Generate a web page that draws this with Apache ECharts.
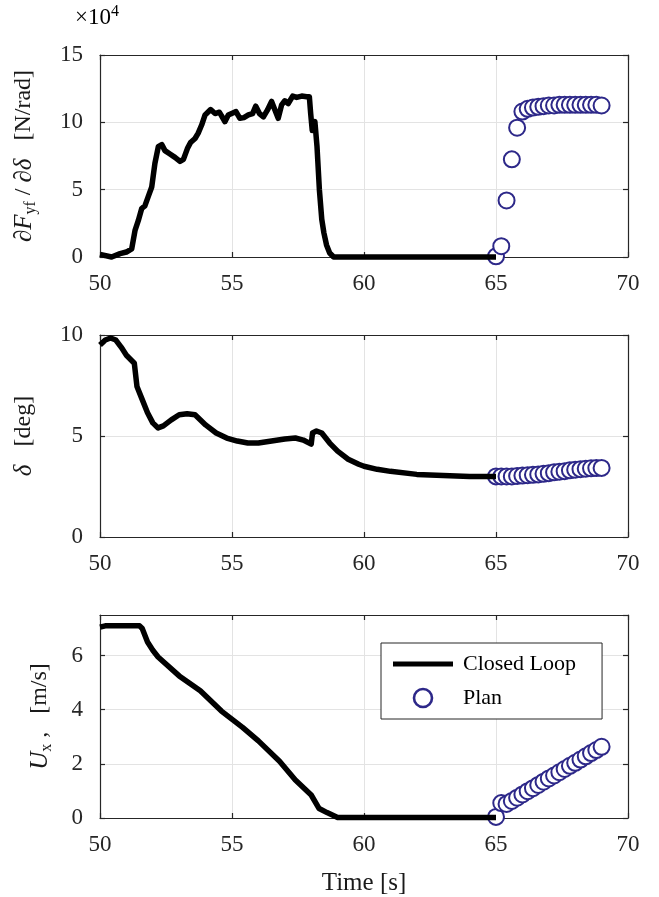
<!DOCTYPE html>
<html>
<head>
<meta charset="utf-8">
<script src="https://cdn.jsdelivr.net/npm/echarts@6/dist/echarts.min.js"></script>
<style>
html, body { margin: 0; padding: 0; background: #fff; }
#chart { width: 659px; height: 897px; }
</style>
</head>
<body>
<div id="chart"></div>
<script>
// time axis ticks (s)
const timeTicks = [50, 55, 60, 65, 70]

// dFyf/d delta, closed loop, in 1e4 N/rad
const stiffT = [50, 50.44, 50.76, 51.0, 51.2, 51.33, 51.45, 51.58, 51.7, 51.83, 51.96, 52.08, 52.21, 52.34, 52.46, 52.65, 52.84, 53.03, 53.16, 53.31, 53.43, 53.6, 53.72, 53.85, 53.98, 54.19, 54.36, 54.52, 54.6, 54.73, 54.86, 55.03, 55.15, 55.3, 55.45, 55.62, 55.78, 55.9, 56.04, 56.19, 56.34, 56.5, 56.63, 56.75, 56.88, 57.0, 57.13, 57.3, 57.45, 57.64, 57.83, 57.93, 57.98, 58.04, 58.14, 58.22, 58.31, 58.4, 58.48, 58.58, 58.7, 58.85, 60, 62, 65]
const stiffV = [0.2, 0, 0.25, 0.37, 0.6, 2.0, 2.7, 3.6, 3.8, 4.5, 5.2, 6.95, 8.2, 8.35, 7.9, 7.65, 7.4, 7.1, 7.25, 8.05, 8.5, 8.8, 9.2, 9.8, 10.55, 10.95, 10.65, 10.75, 10.5, 10.05, 10.55, 10.7, 10.8, 10.3, 10.35, 10.55, 10.65, 11.2, 10.65, 10.4, 10.9, 11.55, 10.9, 10.3, 11.3, 11.6, 11.4, 11.95, 11.85, 11.95, 11.9, 11.9, 10.65, 9.4, 10.05, 8.2, 5.0, 2.8, 1.8, 0.9, 0.3, 0, 0, 0, 0]

// steering angle, closed loop (deg)
const steerT = [50.0, 50.2, 50.4, 50.6, 50.8, 51.0, 51.3, 51.4, 51.6, 51.8, 52.0, 52.2, 52.4, 52.7, 53.0, 53.3, 53.6, 54.0, 54.4, 54.8, 55.2, 55.6, 56.0, 56.5, 57.0, 57.4, 57.7, 58.0, 58.05, 58.2, 58.4, 58.7, 59.0, 59.4, 59.8, 60.0, 60.5, 61, 62, 63, 64, 65]
const steerV = [9.5, 9.75, 9.85, 9.75, 9.4, 9.0, 8.6, 7.45, 6.8, 6.15, 5.65, 5.4, 5.5, 5.8, 6.05, 6.1, 6.05, 5.55, 5.15, 4.9, 4.75, 4.65, 4.65, 4.75, 4.85, 4.9, 4.8, 4.6, 5.15, 5.25, 5.15, 4.65, 4.25, 3.85, 3.6, 3.5, 3.35, 3.25, 3.1, 3.05, 3.0, 3.0]

// longitudinal speed, closed loop (m/s)
const speedT = [50.0, 50.2, 51.0, 51.5, 51.6, 51.8, 52.0, 52.2, 53.0, 53.8, 54.6, 55.4, 56.0, 56.8, 57.4, 58.0, 58.3, 58.6, 59.0, 61, 63, 65]
const speedV = [7.05, 7.1, 7.1, 7.1, 7.0, 6.5, 6.2, 5.95, 5.25, 4.7, 3.95, 3.35, 2.85, 2.1, 1.4, 0.85, 0.35, 0.2, 0.02, 0.02, 0.02, 0.02]

// plan
const planT = [65.0, 65.2, 65.4, 65.6, 65.8, 66.0, 66.2, 66.4, 66.6, 66.8, 67.0, 67.2, 67.4, 67.6, 67.8, 68.0, 68.2, 68.4, 68.6, 68.8, 69.0]
const planStiff = [0.05, 0.8, 4.2, 7.25, 9.6, 10.8, 11.0, 11.1, 11.15, 11.2, 11.25, 11.25, 11.3, 11.3, 11.3, 11.3, 11.3, 11.3, 11.3, 11.3, 11.25]
const planSteer = [3.0, 3.0, 3.0, 3.0, 3.02, 3.04, 3.06, 3.08, 3.1, 3.13, 3.16, 3.2, 3.23, 3.26, 3.3, 3.33, 3.36, 3.38, 3.4, 3.41, 3.42]
const planSpeed = [0.04, 0.55, 0.52, 0.63, 0.75, 0.87, 0.99, 1.1, 1.22, 1.34, 1.46, 1.57, 1.69, 1.81, 1.93, 2.04, 2.16, 2.28, 2.4, 2.51, 2.63]

// y ticks
const stiffTicks = [0, 5, 10, 15]
const steerTicks = [0, 5, 10]
const speedTicks = [0, 2, 4, 6]

const serif = "'Liberation Serif', 'DejaVu Serif', serif"
const axisColor = '#262626'
const planColor = '#2d2889'

const pair = (ts, vs) => ts.map((t, k) => [t, vs[k]])

const nameRich = {
  i: { fontFamily: serif, fontStyle: 'italic', fontSize: 25, lineHeight: 30, color: '#1a1a1a' },
  n: { fontFamily: serif, fontSize: 24, lineHeight: 30, color: '#1a1a1a' },
  s: { fontFamily: serif, fontSize: 16, lineHeight: 16, verticalAlign: 'bottom', color: '#1a1a1a' },
}

const grids = [
  { left: 100, top: 55, width: 528, height: 202 },
  { left: 100, top: 335, width: 528, height: 202 },
  { left: 100, top: 615, width: 528, height: 203 },
]

const panels = [
  { ticks: stiffTicks, max: 15, name: '{i|∂F}{s|yf}{n| / }{i|∂δ}{n|   [N/rad]}', gap: 61 },
  { ticks: steerTicks, max: 10, name: '{i|δ}{n|   [deg]}', gap: 61 },
  { ticks: speedTicks, max: 7.5, name: '{i|U}{s|x}{n| ,   [m/s]}', gap: 45 },
]

const lineStyle = { color: axisColor, width: 1.2 }
const xAxis = []
const yAxis = []
panels.forEach((p, i) => {
  xAxis.push({
    type: 'value', gridIndex: i, min: timeTicks[0], max: timeTicks[timeTicks.length - 1], interval: 5,
    axisLine: { show: true, onZero: false, lineStyle },
    axisTick: { show: true, inside: true, length: 5, lineStyle },
    axisLabel: { fontFamily: serif, fontSize: 23, color: axisColor, margin: 15 },
    splitLine: { show: true, lineStyle: { color: '#e3e3e3', width: 1 } },
    name: i === 2 ? 'Time [s]' : '',
    nameLocation: 'middle',
    nameGap: 53,
    nameTextStyle: { fontFamily: serif, fontSize: 25, color: '#1a1a1a' },
  })
  xAxis.push({
    type: 'value', gridIndex: i, position: 'top', min: timeTicks[0], max: timeTicks[timeTicks.length - 1], interval: 5,
    axisLine: { show: true, onZero: false, lineStyle },
    axisTick: { show: true, inside: true, length: 5, lineStyle },
    axisLabel: { show: false },
    splitLine: { show: false },
  })
  yAxis.push({
    type: 'value', gridIndex: i, min: 0, max: p.max, interval: p.ticks[1] - p.ticks[0],
    axisLine: { show: true, onZero: false, lineStyle },
    axisTick: { show: true, inside: true, length: 5, lineStyle },
    axisLabel: { fontFamily: serif, fontSize: 23, color: axisColor, margin: 17, showMaxLabel: p.ticks.indexOf(p.max) >= 0 },
    splitLine: { show: true, lineStyle: { color: '#e3e3e3', width: 1 } },
    name: p.name,
    nameLocation: 'middle',
    nameRotate: 90,
    nameGap: p.gap,
    nameTextStyle: { rich: nameRich },
  })
  yAxis.push({
    type: 'value', gridIndex: i, position: 'right', min: 0, max: p.max, interval: p.ticks[1] - p.ticks[0],
    axisLine: { show: true, onZero: false, lineStyle },
    axisTick: { show: true, inside: true, length: 5, lineStyle },
    axisLabel: { show: false },
    splitLine: { show: false },
  })
})

const closed = [pair(stiffT, stiffV), pair(steerT, steerV), pair(speedT, speedV)]
const plan = [pair(planT, planStiff), pair(planT, planSteer), pair(planT, planSpeed)]
const series = []
for (let i = 0; i < 3; i++) {
  series.push({
    name: 'Closed Loop', type: 'line', xAxisIndex: 2 * i, yAxisIndex: 2 * i,
    data: closed[i], symbol: 'none', clip: false,
    lineStyle: { color: '#000', width: 5.5, join: 'round' }, itemStyle: { color: '#000' },
  })
  series.push({
    name: 'Plan', type: 'scatter', xAxisIndex: 2 * i, yAxisIndex: 2 * i,
    data: plan[i], symbol: 'emptyCircle', symbolSize: 16, clip: false,
    itemStyle: { color: planColor, borderColor: planColor, borderWidth: 2.6, opacity: 1 },
  })
}

const option = {
  animation: false,
  backgroundColor: '#fff',
  grid: grids,
  xAxis,
  yAxis,
  series,
  legend: {
    orient: 'vertical',
    left: 381,
    top: 643,
    padding: [10, 26, 10, 12],
    itemGap: 12,
    itemWidth: 60,
    itemHeight: 18,
    backgroundColor: '#fff',
    borderColor: axisColor,
    borderWidth: 1,
    borderRadius: 0,
    selectedMode: false,
    textStyle: { fontFamily: serif, fontSize: 22, color: '#000', padding: [0, 0, 0, 5] },
    data: [
      { name: 'Closed Loop', icon: 'path://M0,0 L60,0 L60,5 L0,5 Z', itemStyle: { color: '#000', borderWidth: 0 } },
      { name: 'Plan', icon: 'circle', itemStyle: { color: '#fff', borderColor: planColor, borderWidth: 2.6, opacity: 1 } },
    ],
  },
  graphic: [
    {
      type: 'text', left: 75, top: 4,
      style: {
        text: '{a|×10}{b|4}',
        rich: {
          a: { fontFamily: serif, fontSize: 23, lineHeight: 28, color: axisColor },
          b: { fontFamily: serif, fontSize: 16, lineHeight: 16, verticalAlign: 'top', color: axisColor },
        },
      },
    },
  ],
}

const chart = echarts.init(document.getElementById('chart'))
chart.setOption(option)
window.onresize = function () {
  chart.resize()
}
</script>
</body>
</html>
